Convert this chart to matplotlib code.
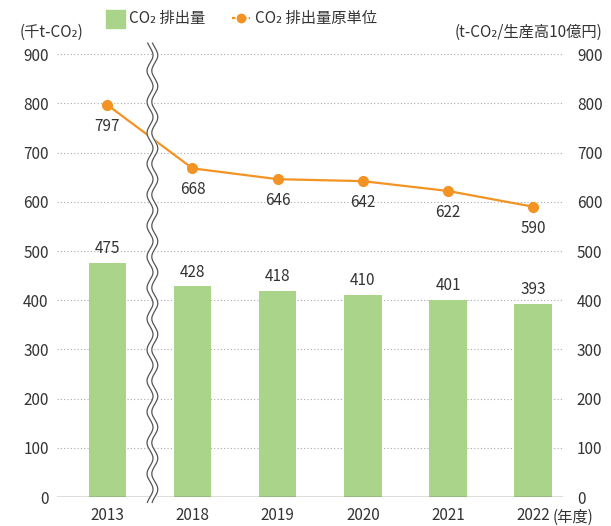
import numpy as np
import matplotlib.pyplot as plt
import matplotlib.transforms as mtransforms

plt.rcParams['font.family'] = ['Noto Sans CJK JP', 'DejaVu Sans']

years = ['2013', '2018', '2019', '2020', '2021', '2022']
emissions = [475, 428, 418, 410, 401, 393]
intensity = [797, 668, 646, 642, 622, 590]
yticks = [0, 100, 200, 300, 400, 500, 600, 700, 800, 900]

bar_col = '#a9d48a'
line_col = '#f39323'
txt_col = '#333333'
fs = 11

fig = plt.figure(figsize=(6.11, 5.26), dpi=100)
ax = fig.add_axes([57 / 611, 0.055, 506 / 611, 0.842])
x = np.arange(len(years))

ax.bar(x, emissions, width=0.44, color=bar_col, zorder=2)
ax.plot(x, intensity, color=line_col, lw=1.6, marker='o', ms=7, zorder=4)

for xi, v in zip(x, emissions):
    ax.text(xi, v + 12, str(v), ha='center', va='bottom', fontsize=fs, color=txt_col)
for xi, v in zip(x, intensity):
    ax.text(xi, v - 26, str(v), ha='center', va='top', fontsize=fs, color=txt_col)

ax.set_xlim(-0.59, 5.35)
ax.set_ylim(0, 900)
ax.set_yticks(yticks)
ax.set_xticks(x)
ax.set_xticklabels(years)
for y in yticks[1:]:
    ax.axhline(y, color='#aaaaaa', lw=0.8, ls=(0, (1, 2)), zorder=1)
ax.axhline(0, color='#555555', lw=1.0, zorder=3)
for s in ax.spines.values():
    s.set_visible(False)
ax.tick_params(axis='both', length=0, labelsize=fs, colors=txt_col)
ax.tick_params(axis='x', pad=7)
ax.tick_params(axis='y', pad=6)

ax2 = ax.twinx()
ax2.set_ylim(0, 900)
ax2.set_yticks(yticks)
for s in ax2.spines.values():
    s.set_visible(False)
ax2.tick_params(axis='y', length=0, labelsize=fs, colors=txt_col, pad=10)

# wavy axis break
tr = mtransforms.blended_transform_factory(ax.transData, ax.transAxes)
yy = np.linspace(-0.012, 1.025, 400)
wave = 0.035 * np.sin(yy / 0.07 * 2 * np.pi)
xc = 0.53
ax.fill_betweenx(yy, xc - 0.028 + wave, xc + 0.028 + wave, color='white',
                 transform=tr, zorder=5, clip_on=False)
ax.plot(xc - 0.028 + wave, yy, color='#555555', lw=0.9, transform=tr, zorder=6, clip_on=False)
ax.plot(xc + 0.028 + wave, yy, color='#555555', lw=0.9, transform=tr, zorder=6, clip_on=False)

# axis titles
fig.text(20 / 611, 1 - 32 / 526, '(千t-CO₂)', fontsize=fs, color=txt_col, va='center')
fig.text(455 / 611, 1 - 32 / 526, '(t-CO₂/生産高10億円)', fontsize=fs, color=txt_col, va='center')
fig.text(553 / 611, 1 - 517 / 526, '(年度)', fontsize=fs, color=txt_col, va='center')

# legend
fig.patches.append(plt.Rectangle((106 / 611, 1 - 28 / 526), 19 / 611, 18 / 526,
                                 color=bar_col, transform=fig.transFigure))
fig.text(129 / 611, 1 - 18 / 526, 'CO₂ 排出量', fontsize=fs, color=txt_col, va='center')
fig.lines.append(plt.Line2D([232 / 611, 250 / 611], [1 - 18 / 526, 1 - 18 / 526],
                            color=line_col, lw=1.6, ls=(0, (1.5, 1)), transform=fig.transFigure))
fig.lines.append(plt.Line2D([241 / 611], [1 - 18 / 526], color=line_col, marker='o', ms=6,
                            transform=fig.transFigure))
fig.text(255 / 611, 1 - 18 / 526, 'CO₂ 排出量原単位', fontsize=fs, color=txt_col, va='center')

fig.savefig('out.png', dpi=100)
